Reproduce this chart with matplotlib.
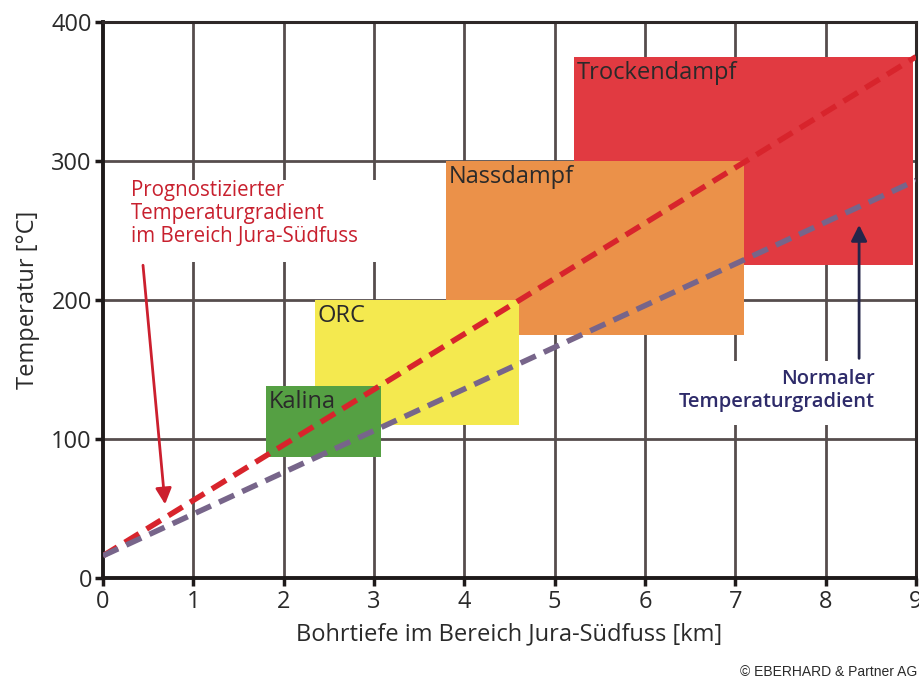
import matplotlib
matplotlib.use("Agg")
import matplotlib.pyplot as plt
from matplotlib.patches import Rectangle

plt.rcParams['font.family'] = ['Open Sans', 'DejaVu Sans']

# ---- data ----
zones = ["Kalina", "ORC", "Nassdampf", "Trockendampf"]
zone_x0 = [1.80, 2.35, 3.80, 5.21]
zone_x1 = [3.08, 4.60, 7.10, 8.97]
zone_y0 = [87, 110, 175, 225]
zone_y1 = [138, 200, 300, 375]
zone_colors = ["#55a043", "#f4e94f", "#eb9149", "#e13a41"]

depth = [0, 9]
temp_prognose = [16, 375]
temp_normal = [16, 286]

xticks = [0, 1, 2, 3, 4, 5, 6, 7, 8, 9]
yticks = [0, 100, 200, 300, 400]

fig = plt.figure(figsize=(9.2, 6.84), dpi=100)
ax = fig.add_axes([103/920, 1 - 578/684, (916-103)/920, (578-22)/684])
ax.set_xlim(0, 9)
ax.set_ylim(0, 400)

grid_c = "#564d4d"
for x in xticks[1:-1]:
    ax.axvline(x, color=grid_c, lw=2, zorder=1)
for y in yticks[1:-1]:
    ax.axhline(y, color=grid_c, lw=2, zorder=1)

n = len(zones)
for i, (name, x0, x1, y0, y1, c) in enumerate(zip(zones, zone_x0, zone_x1, zone_y0, zone_y1, zone_colors)):
    z = 2 + (n - i) * 0.1
    ax.add_patch(Rectangle((x0, y0), x1 - x0, y1 - y0, facecolor=c, edgecolor='none', zorder=z))
    ax.text(x0 + 0.03, y1 - 3, name, ha='left', va='top', fontsize=17, color="#2a2a2a",
            zorder=z + 0.05)

ax.plot(depth, temp_prognose, color="#d8242c", lw=4, dashes=(3, 1.6), zorder=3)
ax.plot(depth, temp_normal, color="#77658a", lw=4, dashes=(3, 1.6), zorder=3)

# white backgrounds behind annotation texts (interrupt the grid)
ax.add_patch(Rectangle((0.2, 227), 2.95, 59, facecolor='white', edgecolor='none', zorder=1.5))
ax.add_patch(Rectangle((6.45, 110), 2.25, 46, facecolor='white', edgecolor='none', zorder=1.5))

# annotations
ax.text(0.31, 286, "Prognostizierter\nTemperaturgradient\nim Bereich Jura-Südfuss",
        ha='left', va='top', fontsize=14.8, color="#c8202e", linespacing=1.12, zorder=5,
        fontweight='medium')
ax.annotate("", xy=(0.69, 51), xytext=(0.44, 227),
            arrowprops=dict(arrowstyle='-|>', color="#cc1f2e", lw=2, mutation_scale=24), zorder=5)

ax.text(8.54, 150, "Normaler\nTemperaturgradient", ha='right', va='top', fontsize=14.5,
        color="#2e2b6a", linespacing=1.15, zorder=5, fontweight='semibold')
ax.annotate("", xy=(8.37, 256), xytext=(8.37, 156),
            arrowprops=dict(arrowstyle='-|>', color="#24254a", lw=2, mutation_scale=24), zorder=5)

for s in ['left', 'bottom']:
    ax.spines[s].set_linewidth(2.8)
    ax.spines[s].set_color("#1e1a1a")
for s in ['top', 'right']:
    ax.spines[s].set_linewidth(2.2)
    ax.spines[s].set_color("#2e2828")

ax.set_xticks(xticks)
ax.set_yticks(yticks)
ax.tick_params(axis='both', which='major', labelsize=17, color="#1e1a1a", width=2.5,
               length=6, labelcolor="#2a2a2a")
ax.tick_params(axis='x', pad=3)
ax.tick_params(axis='y', pad=2)

ax.set_xlabel("Bohrtiefe im Bereich Jura-Südfuss [km]", fontsize=17, color="#2a2a2a", labelpad=6)
ax.set_ylabel("Temperatur [°C]", fontsize=17, color="#2a2a2a", labelpad=8)

fig.text(917/920, 1 - 676/684, "© EBERHARD & Partner AG", ha='right', va='baseline',
         fontsize=10, family=['Liberation Sans'], color="#2a2a2a")

fig.savefig("out.png", dpi=100)
